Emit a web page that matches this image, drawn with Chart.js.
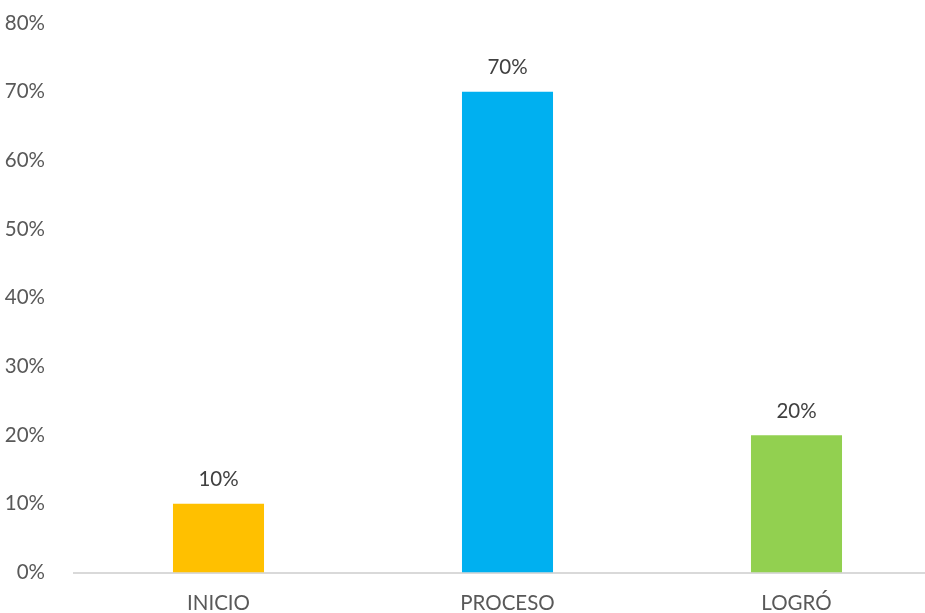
<!DOCTYPE html>
<html>
<head>
<meta charset="utf-8">
<script src="https://cdn.jsdelivr.net/npm/chart.js@4/dist/chart.umd.min.js"></script>
<style>
  html, body { margin: 0; padding: 0; background: #ffffff; overflow: hidden; }
  #wrap { position: absolute; left: 0; top: 0; width: 941px; height: 613px; }
</style>
</head>
<body>
<div id="wrap"><canvas id="c" width="941" height="613"></canvas></div>
<script>
// Categories and their shares (fractions of 1)
const categories = ['INICIO', 'PROCESO', 'LOGRÓ'];
const values = [0.10, 0.70, 0.20];
const barColors = ['#FFC000', '#00B0F0', '#92D050'];
const yTicks = [0, 0.1, 0.2, 0.3, 0.4, 0.5, 0.6, 0.7, 0.8];

const FONT = 'Lato, "Open Sans", sans-serif';
const FONT_SIZE = 20.5;
const pct = v => Math.round(v * 100) + '%';

// Value labels drawn above each bar
const valueLabels = {
  id: 'valueLabels',
  afterDatasetsDraw(chart) {
    const ctx = chart.ctx;
    const meta = chart.getDatasetMeta(0);
    ctx.save();
    ctx.font = FONT_SIZE + 'px ' + FONT;
    ctx.fillStyle = '#404040';
    ctx.textAlign = 'center';
    ctx.textBaseline = 'middle';
    meta.data.forEach((bar, i) => {
      ctx.fillText(pct(values[i]), bar.x, bar.y - 24);
    });
    ctx.restore();
  }
};

new Chart(document.getElementById('c'), {
  type: 'bar',
  data: {
    labels: categories,
    datasets: [{
      data: values,
      backgroundColor: barColors,
      borderWidth: 0,
      categoryPercentage: 1,
      barPercentage: 0.315
    }]
  },
  options: {
    responsive: false,
    animation: false,
    layout: { padding: { top: 23, left: 0, right: 0, bottom: 0 } },
    plugins: { legend: { display: false }, tooltip: { enabled: false } },
    scales: {
      y: {
        min: 0,
        max: 0.8,
        afterBuildTicks(scale) { scale.ticks = yTicks.map(v => ({ value: v })); },
        afterFit(scale) {
          scale.width = 74;
          scale.paddingTop = 0;
          scale.paddingBottom = 0;
        },
        grid: { display: false },
        border: { display: false },
        ticks: {
          padding: 21,
          color: '#595959',
          font: { family: FONT, size: FONT_SIZE },
          callback: v => pct(v)
        }
      },
      x: {
        afterFit(scale) { scale.height = 40.5; },
        grid: { display: false },
        border: { display: true, color: '#d9d9d9', width: 2 },
        ticks: {
          padding: 11,
          color: '#595959',
          font: { family: FONT, size: FONT_SIZE }
        }
      }
    }
  },
  plugins: [valueLabels]
});
</script>
</body>
</html>
